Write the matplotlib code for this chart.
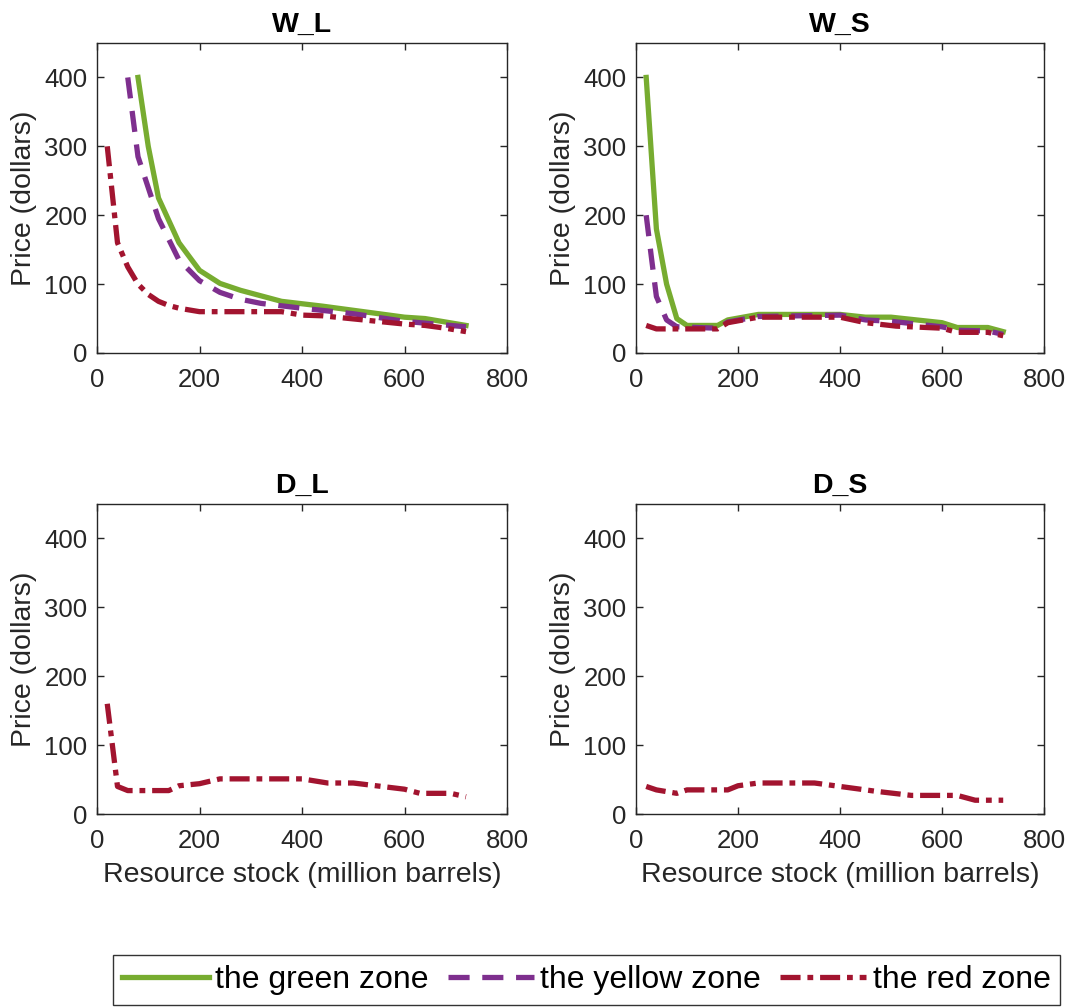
import matplotlib
matplotlib.use("Agg")
import matplotlib.pyplot as plt

plt.rcParams['font.family'] = ['Liberation Sans', 'DejaVu Sans']

GREEN = '#77AC30'
PURPLE = '#7E2F8E'
RED = '#A2142F'
DARK = '#262626'

# ---- data ----
# W_L
wl_green_x = [80, 100, 120, 160, 200, 240, 280, 360, 440, 520, 600, 640, 720]
wl_green_y = [400, 300, 225, 160, 120, 101, 91, 75, 68, 60, 52, 50, 40]
wl_yellow_x = [60, 80, 100, 120, 160, 200, 240, 280, 320, 400, 500, 600, 720]
wl_yellow_y = [400, 285, 240, 195, 135, 105, 88, 78, 72, 65, 57, 46, 38]
wl_red_x = [20, 40, 60, 80, 100, 120, 140, 160, 200, 280, 360, 400, 440, 480, 520, 560, 600, 640, 680, 720]
wl_red_y = [300, 160, 125, 100, 85, 75, 69, 65, 60, 60, 60, 55, 54, 51, 48, 45, 42, 40, 36, 31]

# W_S
ws_green_x = [20, 40, 60, 80, 100, 160, 180, 240, 400, 450, 500, 600, 630, 690, 720]
ws_green_y = [400, 180, 100, 50, 40, 40, 48, 56, 56, 52, 52, 44, 37, 37, 31]
ws_yellow_x = [20, 30, 40, 60, 80, 160, 180, 240, 400, 450, 500, 600, 630, 690, 720]
ws_yellow_y = [200, 140, 82, 48, 38, 36, 45, 53, 55, 48, 46, 38, 33, 32, 27]
ws_red_x = [20, 40, 160, 180, 240, 400, 450, 510, 600, 630, 690, 720]
ws_red_y = [40, 35, 35, 44, 52, 52, 44, 39, 36, 30, 30, 25]

# D_L
dl_red_x = [20, 40, 60, 140, 160, 200, 240, 400, 450, 500, 600, 630, 690, 720]
dl_red_y = [160, 40, 34, 34, 41, 44, 51, 51, 45, 45, 36, 30, 30, 25]

# D_S
ds_red_x = [20, 40, 80, 100, 180, 200, 240, 350, 400, 470, 540, 630, 665, 720]
ds_red_y = [40, 35, 30, 35, 35, 41, 45, 45, 40, 33, 27, 27, 20, 20]

panels = [
    ('W_L', [(wl_green_x, wl_green_y, 'g'), (wl_yellow_x, wl_yellow_y, 'y'), (wl_red_x, wl_red_y, 'r')]),
    ('W_S', [(ws_green_x, ws_green_y, 'g'), (ws_yellow_x, ws_yellow_y, 'y'), (ws_red_x, ws_red_y, 'r')]),
    ('D_L', [(dl_red_x, dl_red_y, 'r')]),
    ('D_S', [(ds_red_x, ds_red_y, 'r')]),
]

styles = {
    'g': dict(color=GREEN, linestyle='-', label='the green zone'),
    'y': dict(color=PURPLE, linestyle=(0, (4.0, 2.4)), label='the yellow zone'),
    'r': dict(color=RED, linestyle=(0, (3.8, 1.3, 1.1, 1.3)), label='the red zone'),
}

W, H = 1073, 1007
fig = plt.figure(figsize=(W / 100, H / 100), dpi=100)

# axes boxes in pixels: left, right, top, bottom
boxes = [(97, 507, 43, 353), (636, 1044, 43, 353),
         (97, 507, 504, 814), (636, 1044, 504, 814)]

for i, ((title, series), (l, r, t, b)) in enumerate(zip(panels, boxes)):
    ax = fig.add_axes([l / W, 1 - b / H, (r - l) / W, (b - t) / H])
    for x, y, k in series:
        ax.plot(x, y, linewidth=3.8, **styles[k])
    ax.set_xlim(0, 800)
    ax.set_ylim(0, 450)
    ax.set_xticks([0, 200, 400, 600, 800])
    ax.set_yticks([0, 100, 200, 300, 400])
    ax.tick_params(direction='in', top=True, right=True, labelsize=18.5,
                   colors=DARK, length=5, width=1)
    ax.tick_params(axis='x', pad=11)
    ax.tick_params(axis='y', pad=7)
    for s in ax.spines.values():
        s.set_color(DARK)
        s.set_linewidth(1)
    ax.set_title(title, fontsize=20.5, fontweight='bold', pad=8)
    ax.set_ylabel('Price (dollars)', fontsize=20.5, color=DARK, labelpad=5)
    if i >= 2:
        ax.set_xlabel('Resource stock (million barrels)', fontsize=20.5, color=DARK, labelpad=6)
    if i == 0:
        handles, labels = ax.get_legend_handles_labels()

leg = fig.legend(handles, labels, loc='center', ncol=3,
                 bbox_to_anchor=(586.5 / W, 1 - 980 / H),
                 fontsize=23, frameon=True, fancybox=False,
                 edgecolor='black', handlelength=2.7, handletextpad=0.2,
                 columnspacing=0.6, borderpad=0.3, borderaxespad=0)
leg.get_frame().set_linewidth(1)

fig.savefig('out.png', dpi=100)
